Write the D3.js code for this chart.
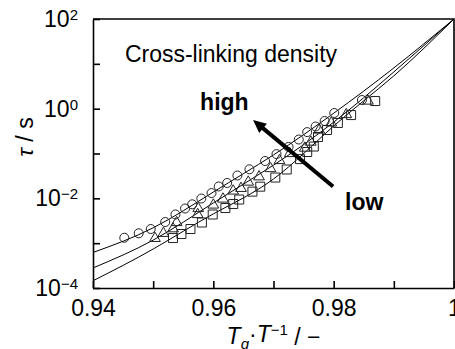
<!DOCTYPE html>
<html>
<head>
<meta charset="utf-8">
<script src="https://cdn.jsdelivr.net/npm/d3@7"></script>
<style>
  body { margin: 0; background: #fff; }
  svg text { font-family: "Liberation Sans", Arial, sans-serif; fill: #000; }
</style>
</head>
<body>
<svg id="chart" width="455" height="349"></svg>
<script>
// measured points (T_g/T, tau in s)
const circleX = [0.9452, 0.9476, 0.9496, 0.9520, 0.9537, 0.9553, 0.9565, 0.9580, 0.9597, 0.9609, 0.9623,
  0.9640, 0.9660, 0.9686, 0.9705, 0.9725, 0.9742, 0.9756, 0.9770, 0.9785, 0.9801, 0.9847];
const circleTau = [1.32e-3, 1.66e-3, 2.07e-3, 2.96e-3, 4.36e-3, 5.93e-3, 7.36e-3, 9.9e-3, 1.31e-2, 1.84e-2, 2.2e-2,
  3.23e-2, 4.44e-2, 6.8e-2, 9.7e-2, 0.14, 0.205, 0.30, 0.40, 0.53, 0.80, 1.56];

const triX = [0.9503, 0.9517, 0.9533, 0.9539, 0.9574, 0.9575, 0.9600, 0.9616, 0.9633, 0.9646, 0.9658,
  0.9676, 0.9695, 0.9710, 0.9727, 0.9752, 0.9762, 0.9776, 0.9796, 0.9821, 0.9857];
const triTau = [1.28e-3, 1.66e-3, 2.1e-3, 2.89e-3, 4.36e-3, 5.93e-3, 7.1e-3, 9.66e-3, 1.46e-2, 1.67e-2, 2.31e-2,
  3.03e-2, 4.62e-2, 6.98e-2, 0.10, 0.132, 0.18, 0.334, 0.48, 0.74, 1.48];

const squareX = [0.9533, 0.9547, 0.9562, 0.9581, 0.9599, 0.9620, 0.9633, 0.9643, 0.9665, 0.9678,
  0.9703, 0.9722, 0.9744, 0.9756, 0.9767, 0.9774, 0.9789, 0.9807, 0.9829, 0.9869];
const squareTau = [1.30e-3, 1.60e-3, 2.07e-3, 2.89e-3, 4.36e-3, 6.08e-3, 7.46e-3, 9.4e-3, 1.41e-2, 1.82e-2,
  2.91e-2, 4.4e-2, 7.5e-2, 0.108, 0.143, 0.233, 0.334, 0.48, 0.72, 1.48];

// fitted curves
const fitX = [0.94, 0.95, 0.96, 0.97, 0.98, 0.99, 1.0];
const fitCircle = [6.2e-4, 2.2e-3, 1.38e-2, 9.3e-2, 0.79, 8.1, 100];
const fitTri = [2.8e-4, 1.17e-3, 7.9e-3, 5.5e-2, 0.50, 6.6, 100];
const fitSquare = [1.45e-4, 7.4e-4, 4.5e-3, 2.7e-2, 0.41, 5.4, 100];

// ticks
const xTicks = [0.94, 0.95, 0.96, 0.97, 0.98, 0.99, 1.0];
const xTickLabels = ["0.94", "", "0.96", "", "0.98", "", "1"];
const yTicks = [1e-4, 1e-3, 1e-2, 1e-1, 1, 10, 100];
const yTickExp = ["\u22124", "", "\u22122", "", "0", "", "2"];

// annotations (data coords)
const arrowFrom = [0.9799, 0.0184];
const arrowTo = [0.9666, 0.56];

const width = 455, height = 349;
const margin = { top: 19, left: 93, bottom: 61, right: 1 };

const svg = d3.select("#chart");

const x = d3.scaleLinear().domain([0.94, 1.0]).range([margin.left, width - margin.right]);
const y = d3.scaleLog().domain([1e-4, 1e2]).range([height - margin.bottom, margin.top]);

const fs = "23px";

// curves
const line = d3.line().x(d => x(d[0])).y(d => y(d[1])).curve(d3.curveNatural);
[fitCircle, fitTri, fitSquare].forEach(f => {
  svg.append("path")
    .datum(fitX.map((v, i) => [v, f[i]]))
    .attr("d", line)
    .attr("fill", "none")
    .attr("stroke", "#000")
    .attr("stroke-width", 1);
});

// markers
const mk = svg.append("g").attr("fill", "none").attr("stroke", "#222").attr("stroke-width", 1);
mk.selectAll("circle.c").data(circleX.map((v, i) => [v, circleTau[i]])).enter()
  .append("circle").attr("cx", d => x(d[0])).attr("cy", d => y(d[1])).attr("r", 4.5);
mk.selectAll("path.t").data(triX.map((v, i) => [v, triTau[i]])).enter()
  .append("path").attr("d", d3.symbol(d3.symbolTriangle, 50))
  .attr("transform", d => `translate(${x(d[0])},${y(d[1])})`);
mk.selectAll("path.s").data(squareX.map((v, i) => [v, squareTau[i]])).enter()
  .append("path").attr("d", d3.symbol(d3.symbolSquare, 81))
  .attr("transform", d => `translate(${x(d[0])},${y(d[1])})`);

// axes
const gx = svg.append("g")
  .attr("transform", `translate(0,${height - margin.bottom})`)
  .call(d3.axisBottom(x).tickValues(xTicks).tickSizeInner(-7).tickSizeOuter(0).tickPadding(12)
    .tickFormat((d, i) => xTickLabels[i]));
const gy = svg.append("g")
  .attr("transform", `translate(${margin.left},0)`)
  .call(d3.axisLeft(y).tickValues(yTicks).tickSizeInner(-7).tickSizeOuter(0).tickPadding(15)
    .tickFormat(() => ""));

[gx, gy].forEach(g => {
  g.attr("font-size", fs).attr("font-family", null);
  g.selectAll("path, line").attr("stroke", "#000").attr("stroke-width", 1.6);
});

gy.selectAll(".tick text").each(function (d, i) {
  if (!yTickExp[i]) return;
  const t = d3.select(this);
  t.append("tspan").text("10");
  t.append("tspan").attr("dy", "-0.45em").attr("font-size", "15px").text(yTickExp[i]);
});

// frame top/right
svg.append("path")
  .attr("d", `M${x(0.94)},${y(100)}H${x(1.0)}V${y(1e-4)}`)
  .attr("fill", "none").attr("stroke", "#000").attr("stroke-width", 1.6);

// texts
svg.append("text").attr("x", x(0.9453)).attr("y", y(11)).attr("font-size", fs).text("Cross-linking density");
svg.append("text").attr("x", x(0.9578)).attr("y", y(0.93)).attr("font-size", fs).attr("font-weight", "bold").text("high");
svg.append("text").attr("x", x(0.9819)).attr("y", y(0.0055)).attr("font-size", fs).attr("font-weight", "bold").text("low");

// arrow
const ax0 = x(arrowFrom[0]), ay0 = y(arrowFrom[1]), ax1 = x(arrowTo[0]), ay1 = y(arrowTo[1]);
const ang = Math.atan2(ay1 - ay0, ax1 - ax0);
const headLen = 13, headW = 6;
svg.append("line")
  .attr("x1", ax0).attr("y1", ay0)
  .attr("x2", ax1 - headLen * 0.8 * Math.cos(ang)).attr("y2", ay1 - headLen * 0.8 * Math.sin(ang))
  .attr("stroke", "#000").attr("stroke-width", 4);
const bx = ax1 - headLen * Math.cos(ang), by = ay1 - headLen * Math.sin(ang);
svg.append("path")
  .attr("d", `M${ax1},${ay1}L${bx + headW * Math.sin(ang)},${by - headW * Math.cos(ang)}L${bx - headW * Math.sin(ang)},${by + headW * Math.cos(ang)}Z`)
  .attr("fill", "#000");

// axis titles
const xt = svg.append("text")
  .attr("x", (x(0.94) + x(1.0)) / 2).attr("y", 344)
  .attr("text-anchor", "middle").attr("font-size", fs);
xt.append("tspan").attr("font-style", "italic").text("T");
xt.append("tspan").attr("font-style", "italic").attr("font-size", "15px").attr("dy", "0.3em").text("g");
xt.append("tspan").attr("dy", "-0.3em").text("\u00b7");
xt.append("tspan").attr("font-style", "italic").text("T");
xt.append("tspan").attr("font-size", "15px").attr("dy", "-0.45em").text("\u22121");
xt.append("tspan").attr("dy", "0.45em").text(" / \u2212");

const yt = svg.append("text")
  .attr("transform", `translate(33,137) rotate(-90)`)
  .attr("text-anchor", "middle").attr("font-size", fs);
yt.append("tspan").attr("font-style", "italic").text("\u03c4");
yt.append("tspan").text(" / s");
</script>
</body>
</html>
